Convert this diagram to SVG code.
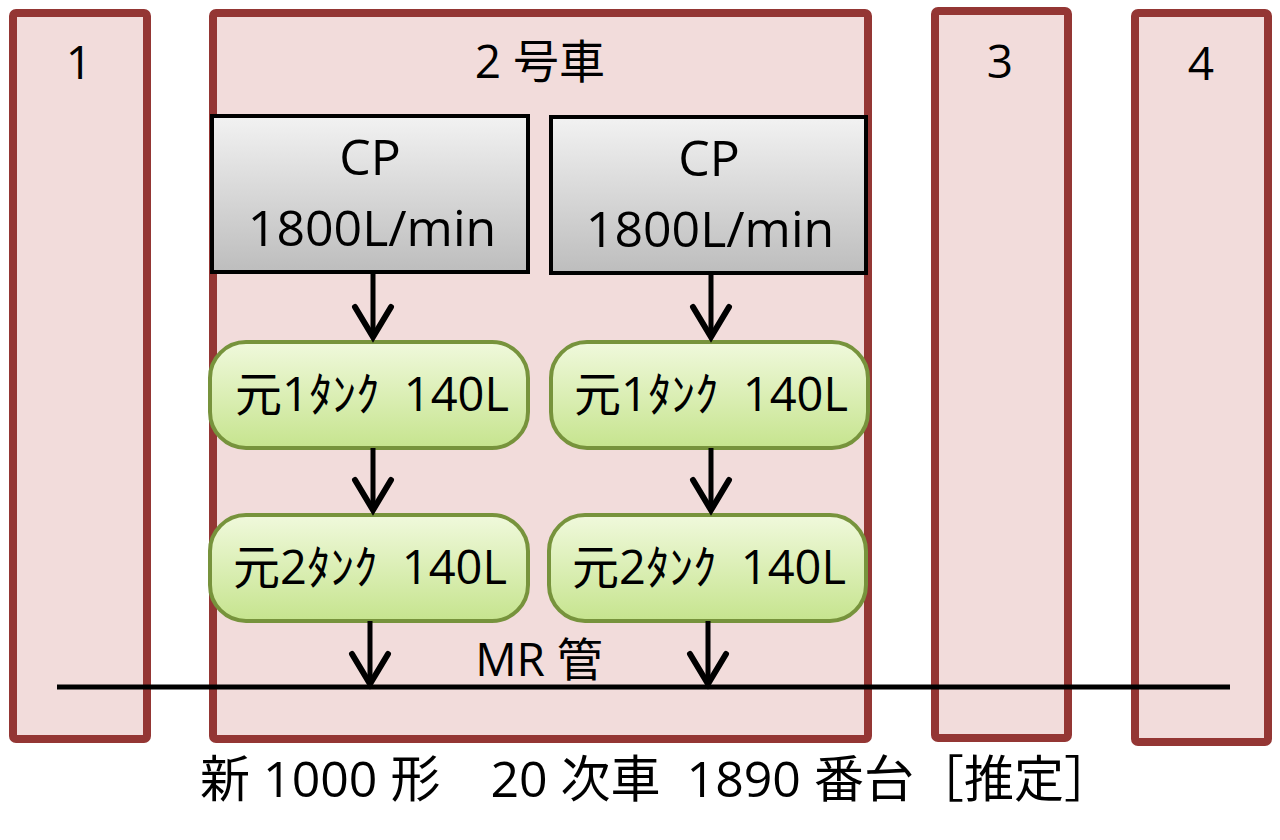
<svg xmlns="http://www.w3.org/2000/svg" width="1280" height="840" viewBox="0 0 1280 840">
<defs>
<linearGradient id="gGray" x1="0" y1="0" x2="0" y2="1">
<stop offset="0" stop-color="#f2f2f2"/>
<stop offset="1" stop-color="#bdbdbd"/>
</linearGradient>
<linearGradient id="gGreen" x1="0" y1="0" x2="0" y2="1">
<stop offset="0" stop-color="#f0f9dc"/>
<stop offset="1" stop-color="#c6e48e"/>
</linearGradient>
<marker id="arr" viewBox="0 0 44 44" refX="38" refY="22" markerWidth="44" markerHeight="44" markerUnits="userSpaceOnUse" orient="auto">
<path d="M8,4 L38,22 L8,40" fill="none" stroke="#000" stroke-width="6" stroke-linecap="round" stroke-linejoin="miter"/>
</marker>
</defs>
<style>
.car{fill:#f2dcdb;stroke:#943634;stroke-width:8;}
.cp{fill:url(#gGray);stroke:#000;stroke-width:4;}
.tank{fill:url(#gGreen);stroke:#77933c;stroke-width:4;}
text{font-family:"Open Sans","Noto Sans CJK JP",sans-serif;fill:#000;text-anchor:middle;dominant-baseline:central;white-space:pre;}
.lbl{font-size:46px;}
.big{font-size:50px;}
.tk{font-size:47px;}
.bot{font-size:50px;}
.conn{stroke:#000;stroke-width:5;fill:none;}
</style>
<rect width="1280" height="840" fill="#fff"/>
<g id="car1"><rect class="car" x="13" y="13" width="134" height="726" rx="3"/><text class="lbl" x="79" y="61">1</text></g>
<g id="car2"><rect class="car" x="213" y="13" width="655" height="726" rx="3"/><text class="lbl" x="540" y="60">2 号車</text></g>
<g id="car3"><rect class="car" x="935" y="11" width="133" height="727" rx="3"/><text class="lbl" x="1000" y="60">3</text></g>
<g id="car4"><rect class="car" x="1135" y="13" width="133" height="729" rx="3"/><text class="lbl" x="1201" y="62">4</text></g>
<g id="cp1"><rect class="cp" x="212" y="116" width="316" height="156"/><text class="big" x="370" y="156">CP</text><text class="big" x="372" y="227">1800L/min</text></g>
<g id="cp2"><rect class="cp" x="551" y="117" width="315" height="156"/><text class="big" x="709" y="157">CP</text><text class="big" x="710" y="228">1800L/min</text></g>
<g id="t11"><rect class="tank" x="210" y="342" width="318" height="106" rx="36"/><text class="tk" x="372" y="393">元1ﾀﾝｸ  140L</text></g>
<g id="t12"><rect class="tank" x="551" y="342" width="317" height="106" rx="36"/><text class="tk" x="711" y="393">元1ﾀﾝｸ  140L</text></g>
<g id="t21"><rect class="tank" x="210" y="515" width="318" height="106" rx="36"/><text class="tk" x="370" y="566">元2ﾀﾝｸ  140L</text></g>
<g id="t22"><rect class="tank" x="549" y="515" width="317" height="106" rx="36"/><text class="tk" x="709" y="566">元2ﾀﾝｸ  140L</text></g>
<g id="connectors">
<line class="conn" x1="57" y1="687" x2="1230" y2="687"/>
<line class="conn" x1="373" y1="272" x2="373" y2="337" marker-end="url(#arr)"/>
<line class="conn" x1="711" y1="273" x2="711" y2="337" marker-end="url(#arr)"/>
<line class="conn" x1="373" y1="448" x2="373" y2="510" marker-end="url(#arr)"/>
<line class="conn" x1="711" y1="448" x2="711" y2="510" marker-end="url(#arr)"/>
<line class="conn" x1="370" y1="621" x2="370" y2="684" marker-end="url(#arr)"/>
<line class="conn" x1="708" y1="621" x2="708" y2="684" marker-end="url(#arr)"/>
</g>
<text class="lbl" x="539" y="658">MR 管</text>
<text class="bot" x="657" y="778">新 1000 形　20 次車  1890 番台［推定］</text>
</svg>
